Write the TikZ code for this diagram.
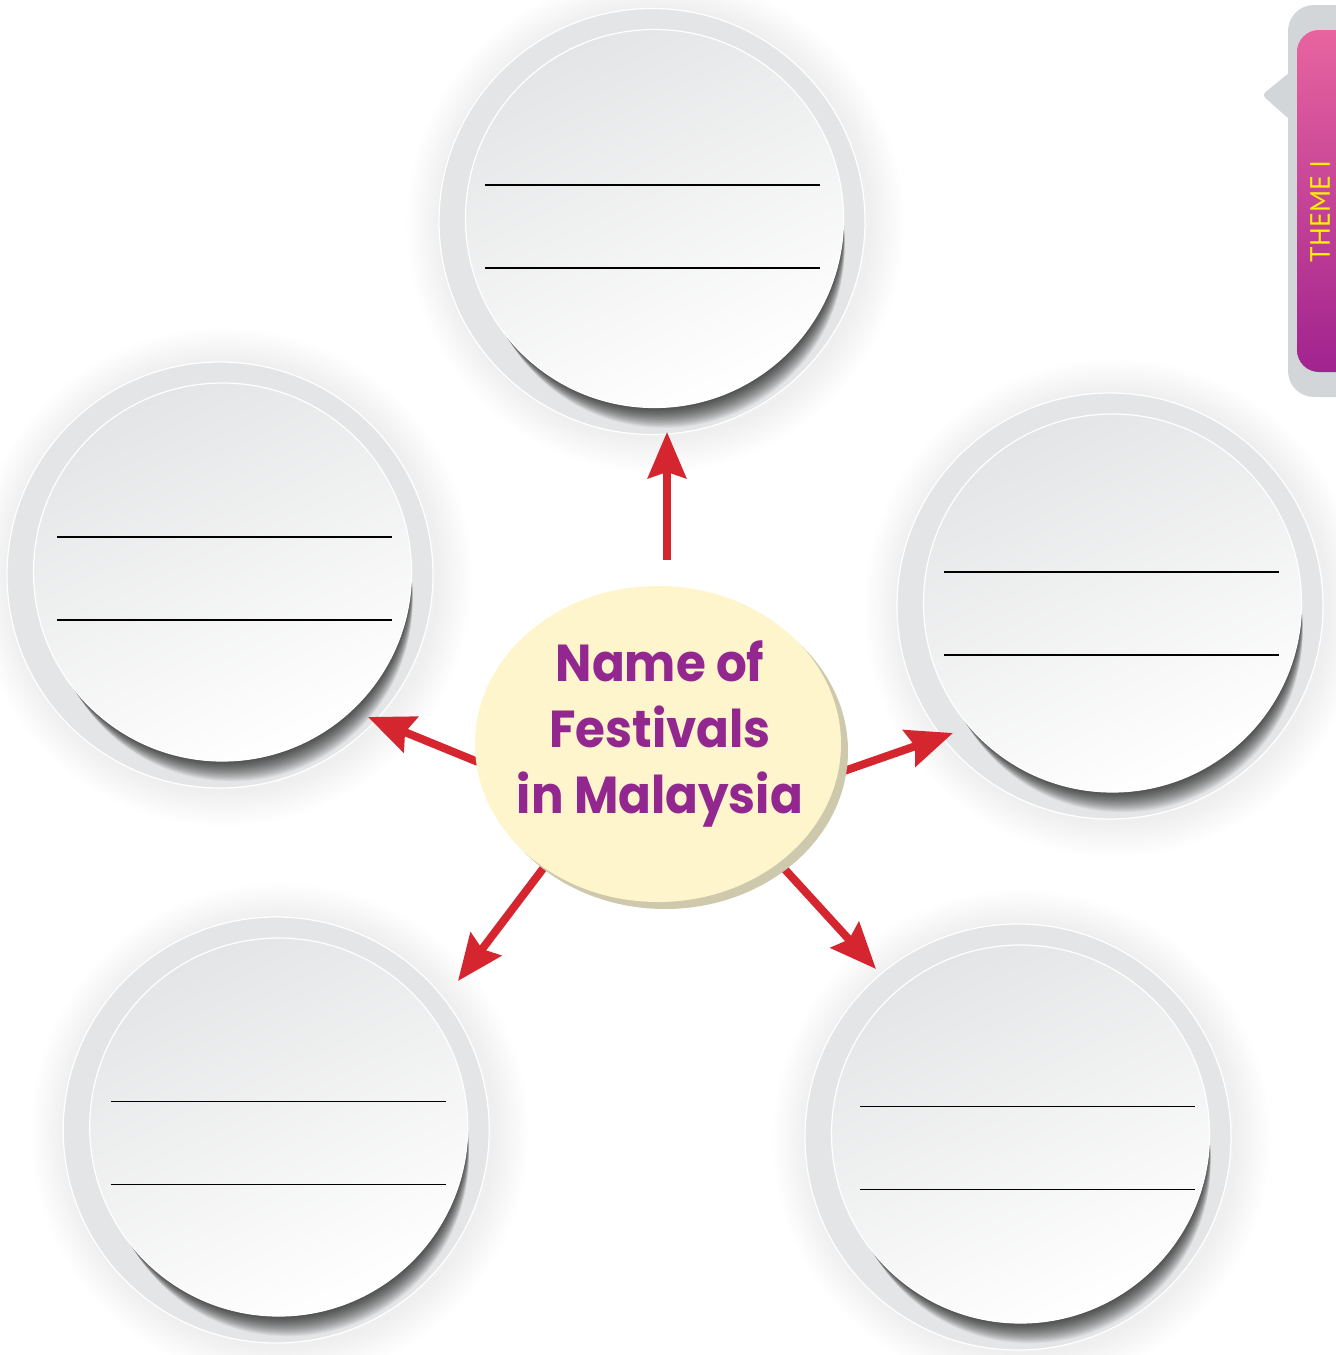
\documentclass[tikz,border=0pt]{standalone}
\usepackage{fontspec}
\setmainfont{Poppins}
\newfontfamily\tabfont{PT Sans}
\usetikzlibrary{shapes.geometric,arrows.meta}
\definecolor{ringgray}{HTML}{E4E5E6}
\definecolor{innergray}{HTML}{E4E5E6}
\definecolor{cream}{HTML}{FFF5CC}
\definecolor{creamshadow}{HTML}{CEC9AC}
\definecolor{txtpurple}{HTML}{92278F}
\definecolor{arrred}{HTML}{D5262F}
\definecolor{tabgray}{HTML}{D2D6D9}
\definecolor{tabpink}{HTML}{E8649F}
\definecolor{tabpurple}{HTML}{A1238E}
\definecolor{tabyellow}{HTML}{FFF200}
\tikzset{
  bubble/.style={circle, minimum size=378pt, inner sep=0pt, top color=innergray, bottom color=white, shading angle=25, draw=white, line width=1.2pt},
  writeline/.style={black, line width=1.3pt},
  arr/.style={arrred, line width=8pt, -{Stealth[length=46pt,width=38pt,inset=6pt]}},
  centre/.style={ellipse, fill=cream, minimum width=366pt, minimum height=316pt, inner sep=0pt},
  centretext/.style={text=txtpurple, inner sep=0pt, font=\bfseries\fontsize{52}{66}\selectfont}
}
\begin{document}
\begin{tikzpicture}[x=1pt,y=-1pt]
\useasboundingbox (0,0) rectangle (1336,1355);
% circles: name / centre x / centre y / line start x / first line y
\foreach \n/\x/\y/\lx/\ly in {top/654.5/218.5/485/185, left/222.5/572/57/537, right/1112.5/603/944/572, bl/278.7/1127/111/1101.5, br/1020.5/1134/860/1106.5}{
  \foreach \k in {1,...,16}{
    \fill[black, opacity=0.004] (\x+1,\y+5) circle (214+2.2*\k);
  }
  \fill[ringgray] (\x-2.5,\y+3) circle (213);
  \draw[white, line width=1.2pt] (\x-2.5,\y+3) circle (213);
  \foreach \k in {1,...,24}{
    \fill[black, opacity=0.04] (\x+0.4*\k,\y+1.2*\k) circle (189-0.35*\k);
  }
  \node[bubble] (\n) at (\x,\y) {};
  \draw[writeline] (\lx,\ly) -- (\lx+335,\ly);
  \draw[writeline] (\lx,\ly+83) -- (\lx+335,\ly+83);
}
% arrow end points
\coordinate (sT) at (667,560);  \coordinate (eT) at (667,432);
\coordinate (sL) at (478,762);  \coordinate (eL) at (368,717);
\coordinate (sR) at (844,771);  \coordinate (eR) at (953,733);
\coordinate (sBL) at (545,866); \coordinate (eBL) at (458,981);
\coordinate (sBR) at (780,864); \coordinate (eBR) at (876,969);
\draw[arr] (sT) -- (eT);
\draw[arr] (sL) -- (eL);
\draw[arr] (sR) -- (eR);
\draw[arr] (sBL) -- (eBL);
\draw[arr] (sBR) -- (eBR);
% centre
\fill[creamshadow] (665,751) ellipse (183 and 158);
\node[centre] (c) at (658,744) {};
\node[centretext, anchor=north] (ctext) at (660,635) {\scalebox{0.93}[1]{\begin{tabular}{@{}c@{}}Name of\\Festivals\\in Malaysia\end{tabular}}};
% tab
\fill[tabgray, rounded corners=26pt] (1288,5) rectangle (1370,397);
\fill[tabgray, rounded corners=4pt] (1290,72) -- (1262,95) -- (1290,120) -- cycle;
\shade[top color=tabpink, bottom color=tabpurple, rounded corners=22pt] (1297,30) rectangle (1370,372);
\node[rotate=90, text=tabyellow, font=\tabfont\fontsize{28}{28}\selectfont, inner sep=0pt] (tab) at (1320,211) {THEME I};
\end{tikzpicture}
\end{document}
